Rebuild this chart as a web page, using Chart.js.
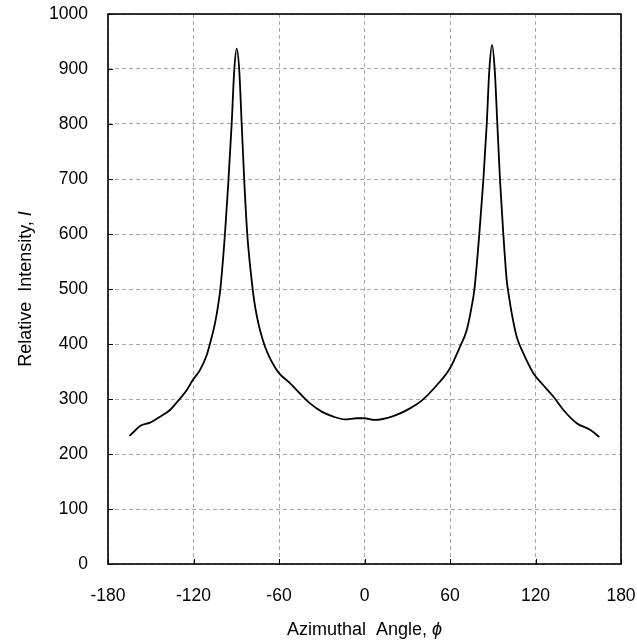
<!DOCTYPE html>
<html>
<head>
<meta charset="utf-8">
<script src="https://cdn.jsdelivr.net/npm/chart.js@4/dist/chart.umd.min.js"></script>
<style>
  html, body { margin: 0; padding: 0; background: #fff; }
  #wrap { width: 637px; height: 643px; }
</style>
</head>
<body>
<div id="wrap"><canvas id="c"></canvas></div>
<script>
// азимутальный угол (град) и относительная интенсивность
const angles = [
    -165, -162, -157.5, -150.5, -144.7, -136.5, -130.7, -124.8, -120.6, -115.4,
    -110.7, -108.4, -104.9, -102.5, -101, -97.9, -95.6, -93.2, -91.4, -89.7,
    -87.9, -86.2, -84.4, -82.3, -79.2, -77.5, -75.5, -73.3, -69.8, -66.3,
    -60, -52.3, -45.3, -38.2, -30, -21.9, -13.7, -5.5, 0, 7,
    20.2, 31.9, 40.1, 50.7, 60, 67, 71.7, 75.2, 77.1, 80.6,
    83.4, 85.8, 87.6, 89.5, 91.4, 93.2, 95.1, 97.4, 99.8, 101.4,
    103.3, 106.8, 111.5, 118.5, 125.5, 132.6, 139.6, 148.9, 158.3, 164.8,
];
const intensity = [
    233, 240, 251, 257, 266, 280, 297, 316, 334, 353,
    380, 401, 438, 474, 504, 601, 692, 801, 898, 937,
    898, 801, 698, 601, 516, 480, 450, 425, 395, 374,
    347, 329, 310, 292, 277, 268, 263, 265, 265, 262,
    269, 283, 297, 325, 356, 395, 425, 468, 499, 601,
    698, 801, 898, 944, 898, 801, 698, 601, 516, 486,
    456, 413, 383, 347, 325, 304, 280, 256, 244, 231,
];
const xTicks = [-180, -120, -60, 0, 60, 120, 180];
const yTicks = [0, 100, 200, 300, 400, 500, 600, 700, 800, 900, 1000];

const FONT = "'Liberation Sans', Arial, sans-serif";

// рамка, внутренние засечки и подписи осей (с курсивом)
const framePlugin = {
    id: 'frame',
    afterDraw(chart) {
        const { ctx, chartArea: a, scales } = chart;
        ctx.save();
        ctx.strokeStyle = '#000';
        ctx.lineWidth = 1;
        ctx.beginPath();
        xTicks.forEach((v) => {
            const px = Math.round(scales.x.getPixelForValue(v)) + 0.5;
            ctx.moveTo(px, a.bottom);
            ctx.lineTo(px, a.bottom - 5);
        });
        yTicks.forEach((v) => {
            const py = Math.round(scales.y.getPixelForValue(v)) + 0.5;
            ctx.moveTo(a.left, py);
            ctx.lineTo(a.left + 5, py);
        });
        ctx.stroke();

        ctx.lineWidth = 1.6;
        ctx.strokeRect(a.left, a.top, a.right - a.left, a.bottom - a.top);

        ctx.fillStyle = '#000';
        ctx.textBaseline = 'middle';
        const drawParts = (parts, cx, cy) => {
            let w = 0;
            parts.forEach((p) => { ctx.font = p[1]; w += ctx.measureText(p[0]).width; });
            let x = cx - w / 2;
            ctx.textAlign = 'left';
            parts.forEach((p) => {
                ctx.font = p[1];
                ctx.fillText(p[0], x, cy);
                x += ctx.measureText(p[0]).width;
            });
        };
        const normal = '18px ' + FONT;
        const italic = 'italic 18px ' + FONT;
        drawParts([['Azimuthal  Angle, ', normal], ['\u03D5', italic]], (a.left + a.right) / 2, 630);
        ctx.save();
        ctx.translate(26, (a.top + a.bottom) / 2);
        ctx.rotate(-Math.PI / 2);
        drawParts([['Relative  Intensity, ', normal], ['I', italic]], 0, 0);
        ctx.restore();
        ctx.restore();
    },
};

// убираем автоматические отступы под выступающие подписи
function noPad(s) {
    s.paddingLeft = 0;
    s.paddingRight = 0;
    s.paddingTop = 0;
    s.paddingBottom = 0;
}

new Chart(document.getElementById('c'), {
    type: 'line',
    data: {
        datasets: [{
            data: angles.map((x, i) => ({ x, y: intensity[i] })),
            borderColor: '#000',
            borderWidth: 1.8,
            pointRadius: 0,
            fill: false,
            cubicInterpolationMode: 'monotone',
        }],
    },
    options: {
        responsive: true,
        maintainAspectRatio: false,
        animation: false,
        layout: { padding: { left: 0, right: 16, top: 14, bottom: 0 } },
        plugins: { legend: { display: false }, tooltip: { enabled: false } },
        scales: {
            x: {
                type: 'linear',
                min: -180,
                max: 180,
                afterBuildTicks: (s) => { s.ticks = xTicks.map((v) => ({ value: v })); },
                afterFit: (s) => { s.height = 79; noPad(s); },
                grid: { color: '#a8a8a8', lineWidth: 1, drawTicks: false },
                border: { display: false, dash: [4, 3] },
                ticks: {
                    color: '#000', padding: 22, maxRotation: 0,
                    font: { family: FONT, size: 17.5 },
                    callback: (v) => String(v),
                },
            },
            y: {
                min: 0,
                max: 1000,
                afterBuildTicks: (s) => { s.ticks = yTicks.map((v) => ({ value: v })); },
                afterFit: (s) => { s.width = 108; noPad(s); },
                grid: { color: '#a8a8a8', lineWidth: 1, drawTicks: false },
                border: { display: false, dash: [4, 3] },
                ticks: {
                    color: '#000', padding: 20,
                    font: { family: FONT, size: 17.5 },
                    callback: (v) => String(v),
                },
            },
        },
    },
    plugins: [framePlugin],
});
</script>
</body>
</html>
